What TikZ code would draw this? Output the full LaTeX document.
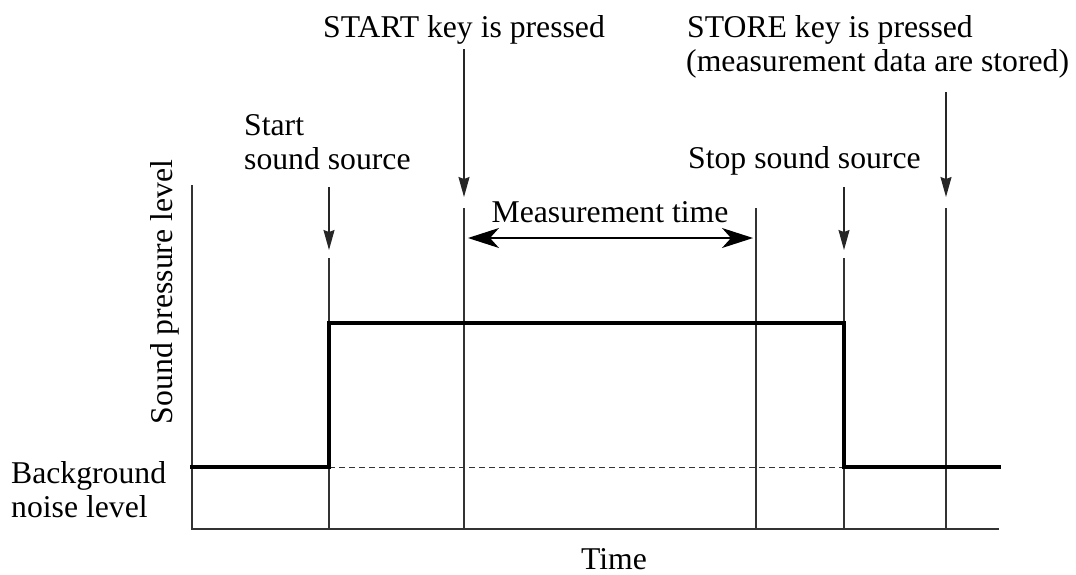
\documentclass[tikz,border=0pt]{standalone}
\usepackage{fontspec}
\setmainfont{Liberation Serif}
\usetikzlibrary{arrows.meta}

\begin{document}
\begin{tikzpicture}[x=1pt,y=-1pt,
  lbl/.style={inner sep=0pt, anchor=base west, font=\fontsize{31.7}{34}\selectfont},
  guide/.style={line width=1.4pt, draw=black!80},
  signal/.style={line width=3.2pt, line join=miter, line cap=rect},
  pointer/.style={line width=1.4pt, draw=black!85, -{Stealth[length=20pt,width=11pt,inset=2pt]}},
  span/.style={line width=1.2pt, {Stealth[length=31pt,width=20pt,inset=9pt]}-{Stealth[length=31pt,width=20pt,inset=9pt]}},
  noise/.style={line width=1pt, dash pattern=on 6pt off 4pt, draw=black!80},
]
\useasboundingbox (0,0) rectangle (1076,574);

% axes
\coordinate (ytop) at (192,185);
\coordinate (orig) at (192,529);
\coordinate (xend) at (999,529);
\draw[guide] (ytop) -- (orig) -- (xend);

% event markers (vertical guides)
\coordinate (g1t) at (329,258); \coordinate (g1b) at (329,529);
\coordinate (g2t) at (464,208); \coordinate (g2b) at (464,529);
\coordinate (g3t) at (756,208); \coordinate (g3b) at (756,529);
\coordinate (g4t) at (844,258); \coordinate (g4b) at (844,529);
\coordinate (g5t) at (946,208); \coordinate (g5b) at (946,529);
\foreach \g in {g1,g2,g3,g4,g5} \draw[guide] (\g t) -- (\g b);

% pointers from the captions
\coordinate (p1s) at (329,187); \coordinate (p1e) at (329,250);
\coordinate (p2s) at (464,49);  \coordinate (p2e) at (464,197);
\coordinate (p4s) at (844,187); \coordinate (p4e) at (844,250);
\coordinate (p5s) at (946,92);  \coordinate (p5e) at (946,197);
\foreach \p in {p1,p2,p4,p5} \draw[pointer] (\p s) -- (\p e);

% sound pressure level curve
\coordinate (s0) at (192,467);
\coordinate (s1) at (329,467);
\coordinate (s2) at (329,323);
\coordinate (s3) at (844,323);
\coordinate (s4) at (844,467);
\coordinate (s5) at (999,467);
\draw[noise] (s1) -- (s4);
\draw[signal] (s0) -- (s1) -- (s2) -- (s3) -- (s4) -- (s5);

% measurement time span
\coordinate (m1) at (468,238);
\coordinate (m2) at (753,238);
\draw[span] (m1) -- (m2);

% captions
\node[lbl] (startkey) at (323,37) {START key is pressed};
\node[lbl] (storekey) at (687,37) {STORE key is pressed};
\node[lbl] (stored) at (686,71) {(measurement data are stored)};
\node[lbl] (startsrc1) at (244,135) {Start};
\node[lbl] (startsrc2) at (244,169) {sound source};
\node[lbl] (stopsrc) at (688,168) {Stop sound source};
\node[lbl, anchor=base] (mtime) at (610,222) {Measurement time};
\node[lbl] (bg1) at (11,483) {Background};
\node[lbl] (bg2) at (11,517) {noise level};
\node[lbl, anchor=base] (taxis) at (614,569) {Time};
\node[lbl, anchor=base, rotate=90] (yaxis) at (172,292) {Sound pressure level};
\end{tikzpicture}
\end{document}
